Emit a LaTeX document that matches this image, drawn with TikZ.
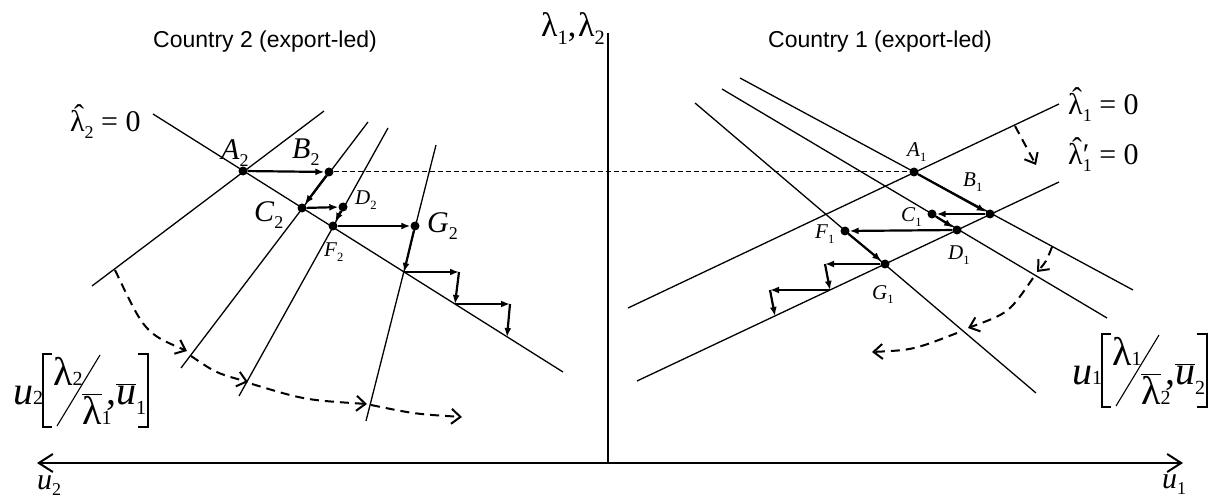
\documentclass[tikz,border=0pt]{standalone}
\usepackage{fontspec}
\setmainfont{Liberation Serif}
\newfontfamily\sansf{Liberation Sans}
\usetikzlibrary{arrows.meta}
\newcommand\lh{\makebox[0pt][l]{\kern0.13em\raisebox{0.2em}{ˆ}}λ}
\newcommand\ovl[1]{\ensuremath{\overline{\hbox{#1}}}}
\newcommand\sub[1]{\raisebox{-0.22em}{\scalebox{0.6}{#1}}}
\newcommand\subz[1]{\scalebox{0.5}{#1}}
\newcommand\subl[1]{\raisebox{-0.25em}{\scalebox{0.5}{#1}}}
\tikzset{
  ln/.style={line width=1.3pt},
  thk/.style={line width=2.2pt, -{Latex[length=9pt,width=7pt]}},
  dot/.style={circle, fill, inner sep=0pt, minimum size=9pt},
  dcurve/.style={line width=2pt, dash pattern=on 9pt off 6pt, -{Straight Barb[length=9pt,width=15pt]}},
  hdash/.style={line width=1pt, dash pattern=on 5pt off 3pt},
  axisln/.style={line width=2pt},
  lbig/.style={font=\fontsize{30}{34}\selectfont, inner sep=0pt, anchor=base west},
  lmed/.style={font=\fontsize{21}{24}\selectfont, inner sep=0pt, anchor=base west},
  lbr/.style={font=\fontsize{40}{44}\selectfont, inner sep=0pt, anchor=base west},
  eqlab/.style={font=\fontsize{30}{34}\selectfont, inner sep=0pt, anchor=base west},
  ttl/.style={font=\sansf\fontsize{23}{27}\selectfont, inner sep=0pt},
  brk/.style={line width=1.1pt},
}
\newcommand\ulab[4]{%
\begin{scope}[shift={#1}]
\node[lbr] (#2u) at (0,0) {\textit{u}\subz{#3}};
\draw[brk] (39,-50) -- (30,-50) -- (30,23) -- (39,23);
\node[lbr] (#2n) at (40,-19) {λ\subz{#3}};
\draw[brk] (44,22) -- (87,-49);
\node[lbr] (#2d) at (69,20) {\ovl{λ}\subz{#4}};
\node[lbr] (#2c) at (93,0) {,};
\node[lbr] (#2v) at (103,0) {\ovl{\itshape u}\subl{#4}};
\draw[brk] (125,-50) -- (135,-50) -- (135,23) -- (125,23);
\end{scope}}
\begin{document}
\begin{tikzpicture}[x=1pt,y=-1pt]
\useasboundingbox (0,0) rectangle (1211,497);
% axes
\coordinate (axL) at (37,463); \coordinate (axR) at (1183,463);
\coordinate (axT) at (608,33); \coordinate (axO) at (608,463);
\draw[axisln, {Straight Barb[length=14pt,width=18pt]}-{Straight Barb[length=14pt,width=18pt]}] (axL) -- (axR);
\draw[line width=1.6pt] (axT) -- (axO);
\node[font=\fontsize{34}{38}\selectfont, inner sep=0pt, anchor=base east] (lamax) at (605,37) {λ\sub{1},\kern0.05em λ\sub{2}};
\node[lbig] (u2ax) at (37,489) {\textit{u}\sub{2}};
\node[lbig] (u1ax) at (1162,488) {\textit{u}\sub{1}};
% titles
\node[ttl] (t2) at (265,42) {Country 2 (export-led)};
\node[ttl] (t1) at (880,42) {Country 1 (export-led)};
% ---------- left panel
\coordinate (h2a) at (153,114); \coordinate (h2b) at (563,372);
\coordinate (up2a) at (324,111); \coordinate (up2b) at (92,286);
\coordinate (b2a) at (368,122); \coordinate (b2b) at (181,368);
\coordinate (d2a) at (388,128); \coordinate (d2b) at (239,396);
\coordinate (g2a) at (436,145); \coordinate (g2b) at (366,421);
\draw[ln] (h2a) -- (h2b);
\draw[ln] (up2a) -- (up2b);
\draw[ln] (b2a) -- (b2b);
\draw[ln] (d2a) -- (d2b);
\draw[ln] (g2a) -- (g2b);
\node[eqlab] (h2lab) at (70,132) {\lh\sub{2} = 0};
\node[dot] (A2) at (243,171) {};
\node[dot] (B2) at (329,172) {};
\node[dot] (C2) at (302,208) {};
\node[dot] (D2) at (343,207) {};
\node[dot] (F2) at (333,226) {};
\node[dot] (G2) at (415,226) {};
\coordinate (S1) at (404,272); \coordinate (S2) at (459,272);
\coordinate (S3) at (455,304); \coordinate (S4) at (510,304);
\coordinate (S5) at (507,337);
\draw[thk] (A2) -- (B2);
\draw[thk] (B2) -- (C2);
\draw[thk] (C2) -- (D2);
\draw[thk] (D2) -- (F2);
\draw[thk] (F2) -- (G2);
\draw[thk] (G2) -- (S1);
\draw[thk] (S1) -- (S2);
\draw[thk] (S2) -- (S3);
\draw[thk] (S3) -- (S4);
\draw[thk] (S4) -- (S5);
\node[lbig] (lA2) at (221,160) {\textit{A}\sub{2}};
\node[lbig] (lB2) at (292,159) {\textit{B}\sub{2}};
\node[lbig] (lC2) at (254,222) {\textit{C}\sub{2}};
\node[lmed] (lD2) at (355,205) {\textit{D}\sub{2}};
\node[lmed] (lF2) at (324,257) {\textit{F}\sub{2}};
\node[lbig] (lG2) at (427,233) {\textit{G}\sub{2}};
% left dashed curve
\coordinate (lc0) at (115,270); \coordinate (lc1) at (187,351);
\coordinate (lc2) at (191,356); \coordinate (lc3) at (248,382);
\coordinate (lc4) at (252,384); \coordinate (lc5) at (367,404);
\coordinate (lc6) at (371,405); \coordinate (lc7) at (462,417);
\draw[dcurve] (lc0) .. controls (145,333) .. (lc1);
\draw[dcurve] (lc2) .. controls (216,373) .. (lc3);
\draw[dcurve] (lc4) .. controls (305,400) .. (lc5);
\draw[dcurve] (lc6) .. controls (415,414) .. (lc7);
\ulab{(13,404)}{L}{2}{1}
% ---------- right panel
\coordinate (r1a1) at (628,308); \coordinate (r1a2) at (1059,104);
\coordinate (r1b1) at (637,381); \coordinate (r1b2) at (1059,182);
\coordinate (ra1) at (740,78); \coordinate (ra2) at (1133,290);
\coordinate (rb1) at (722,89); \coordinate (rb2) at (1107,318);
\coordinate (rc1) at (695,103); \coordinate (rc2) at (1036,393);
\draw[ln] (r1a1) -- (r1a2);
\draw[ln] (r1b1) -- (r1b2);
\draw[ln] (ra1) -- (ra2);
\draw[ln] (rb1) -- (rb2);
\draw[ln] (rc1) -- (rc2);
\node[eqlab] (h1lab) at (1068,115) {\lh\sub{1} = 0};
\node[eqlab] (h1plab) at (1068,165) {\lh\makebox[0.3em][l]{\rlap{\sub{1}}′} = 0};
\node[dot] (A1) at (914,172) {};
\node[dot] (B1) at (990,214) {};
\node[dot] (C1) at (932,214) {};
\node[dot] (D1) at (957,230) {};
\node[dot] (F1) at (845,231) {};
\node[dot] (G1) at (885,264) {};
\coordinate (T1) at (825,264); \coordinate (T2) at (830,290);
\coordinate (T3) at (770,290); \coordinate (T4) at (775,316);
\draw[thk] (A1) -- (B1);
\draw[thk] (B1) -- (C1);
\draw[thk] (C1) -- (D1);
\draw[thk] (D1) -- (F1);
\draw[thk] (F1) -- (G1);
\draw[thk] (G1) -- (T1);
\draw[thk] (T1) -- (T2);
\draw[thk] (T2) -- (T3);
\draw[thk] (T3) -- (T4);
\draw[hdash] (B2) -- (A1);
\node[lmed] (lA1) at (907,157) {\textit{A}\sub{1}};
\node[lmed] (lB1) at (963,187) {\textit{B}\sub{1}};
\node[lmed] (lC1) at (901,222) {\textit{C}\sub{1}};
\node[lmed] (lD1) at (948,260) {\textit{D}\sub{1}};
\node[lmed] (lF1) at (815,239) {\textit{F}\sub{1}};
\node[lmed] (lG1) at (872,299) {\textit{G}\sub{1}};
% right dashed arrows
\coordinate (sd0) at (1015,126); \coordinate (sd1) at (1036,165);
\draw[dcurve] (sd0) -- (sd1);
\coordinate (rd0) at (1052,247); \coordinate (rd1) at (1037,272);
\coordinate (rd2) at (1033,278); \coordinate (rd3) at (968,328);
\coordinate (rd4) at (957,333); \coordinate (rd5) at (872,352);
\draw[dcurve] (rd0) .. controls (1046,262) .. (rd1);
\draw[dcurve] (rd2) .. controls (1009,313) .. (rd3);
\draw[dcurve] (rd4) .. controls (913,350) .. (rd5);
\ulab{(1072,384)}{R}{1}{2}
\end{tikzpicture}
\end{document}
